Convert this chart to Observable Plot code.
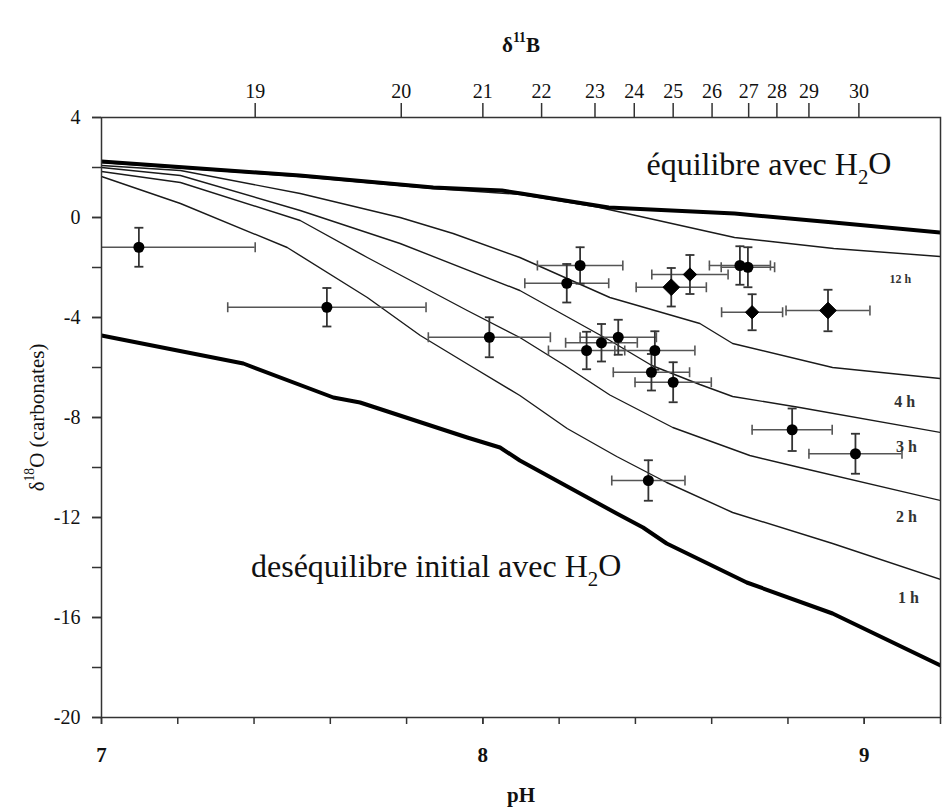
<!DOCTYPE html>
<html><head><meta charset="utf-8">
<script src="https://cdn.jsdelivr.net/npm/d3@7"></script>
<script src="https://cdn.jsdelivr.net/npm/@observablehq/plot@0.6"></script>
<style>
html,body{margin:0;padding:0;background:#fff;}
#chart{width:944px;height:810px;}
#chart svg, #chart svg text, #chart svg tspan{font-family:'Liberation Serif','Times New Roman',serif;}
</style></head><body><div id="chart"></div>
<script>
// ---------- model curves (pH, δ18O) ----------
const eqPH = [7.0, 7.52, 7.87, 8.05, 8.10, 8.33, 8.66, 8.92, 9.2];
const eqO  = [2.24, 1.68, 1.20, 1.08, 0.96, 0.40, 0.16, -0.20, -0.60];

const h12PH = [7.0, 7.52, 7.87, 8.10, 8.30, 8.41, 8.66, 8.92, 9.2];
const h12O  = [2.20, 1.64, 1.16, 0.92, 0.42, 0.05, -0.80, -1.24, -1.56];

const h4PH = [7.0, 7.207, 7.521, 7.783, 7.922, 8.097, 8.333, 8.569, 8.655, 8.917, 9.2];
const h4O  = [2.08, 1.88, 0.96, 0.0, -0.64, -1.60, -3.20, -4.24, -5.04, -6.00, -6.44];

const h3PH = [7.0, 7.207, 7.521, 7.783, 8.097, 8.333, 8.443, 8.569, 8.655, 8.831, 9.2];
const h3O  = [2.0, 1.68, 0.28, -1.04, -2.92, -4.92, -5.92, -6.68, -7.16, -7.60, -8.60];

const h2PH = [7.0, 7.207, 7.521, 7.697, 7.959, 8.097, 8.215, 8.333, 8.498, 8.700, 8.831, 9.2];
const h2O  = [1.84, 1.40, -0.12, -1.60, -3.72, -4.80, -5.92, -7.10, -8.40, -9.52, -10.00, -11.32];

const h1PH = [7.0, 7.207, 7.487, 7.697, 7.836, 7.966, 8.097, 8.221, 8.351, 8.482, 8.655, 8.917, 9.2];
const h1O  = [1.64, 0.56, -1.20, -3.20, -4.72, -5.92, -7.12, -8.44, -9.56, -10.60, -11.80, -13.04, -14.48];

const initPH = [7.0, 7.372, 7.608, 7.678, 7.959, 8.045, 8.097, 8.351, 8.420, 8.482, 8.692, 8.917, 9.2];
const initO  = [-4.72, -5.84, -7.20, -7.40, -8.80, -9.20, -9.72, -11.84, -12.40, -13.04, -14.60, -15.84, -17.92];

// ---------- samples ----------
const samplePH    = [7.098, 7.591, 8.017, 8.255, 8.220, 8.494, 8.543, 8.674, 8.695, 8.706, 8.905, 8.272, 8.311, 8.355, 8.451, 8.442, 8.499, 8.811, 8.977, 8.434];
const sampleO     = [-1.19, -3.59, -4.79, -1.92, -2.63, -2.79, -2.28, -1.92, -1.99, -3.79, -3.72, -5.32, -5.01, -4.79, -5.32, -6.19, -6.59, -8.49, -9.45, -10.52];
const samplePHErr = [0.305, 0.26, 0.16, 0.112, 0.11, 0.092, 0.10, 0.08, 0.07, 0.08, 0.11, 0.10, 0.094, 0.10, 0.105, 0.10, 0.10, 0.105, 0.122, 0.096];
const sampleOErr  = [0.78, 0.77, 0.80, 0.73, 0.77, 0.77, 0.78, 0.77, 0.80, 0.72, 0.83, 0.75, 0.75, 0.70, 0.77, 0.73, 0.80, 0.85, 0.80, 0.81];
const sampleType  = ["circle","circle","circle","circle","circle","bigDiamond","diamond","circle","circle","diamond","bigDiamond","circle","circle","circle","circle","circle","circle","circle","circle","circle"];

// ---------- axes ----------
const pHMinorTicks = [7, 7.2, 7.4, 7.6, 7.8, 8, 8.2, 8.4, 8.6, 8.8, 9, 9.2];
const pHMajorTicks = [7, 8, 9];
const yMinorTicks = [4, 2, 0, -2, -4, -6, -8, -10, -12, -14, -16, -18, -20];
const yMajorTicks = [4, 0, -4, -8, -12, -16, -20];
const b11Labels = ["19","20","21","22","23","24","25","26","27","28","29","30"];
const b11PH     = [7.403, 7.786, 8.000, 8.154, 8.294, 8.397, 8.499, 8.601, 8.697, 8.771, 8.855, 8.986];

// ---------- texts ----------
const topTitle = "δ^{11}B";
const xTitle = "pH";
const yTitle = "δ^{18}O (carbonates)";
const eqText = "équilibre avec H_{2}O";
const eqTextPH = 8.429, eqTextO = 1.72;
const initText = "deséquilibre initial avec H_{2}O";
const initTextPH = 7.392, initTextO = -14.36;
const curveLabels   = ["12 h", "4 h", "3 h", "2 h", "1 h"];
const curveLabelPH  = [9.095, 9.106, 9.111, 9.111, 9.116];
const curveLabelO   = [-2.48, -7.36, -9.16, -11.96, -15.2];

// ---------- build tables ----------
const mk = (name, ph, o) => ph.map((p, i) => ({curve: name, pH: p, d18O: o[i]}));
const thickRows = [...mk("eq", eqPH, eqO), ...mk("init", initPH, initO)];
const thinRows = [...mk("12h", h12PH, h12O), ...mk("4h", h4PH, h4O), ...mk("3h", h3PH, h3O), ...mk("2h", h2PH, h2O), ...mk("1h", h1PH, h1O)];
const samples = samplePH.map((p, i) => ({ph: p, o: sampleO[i], phErr: samplePHErr[i], oErr: sampleOErr[i], sym: sampleType[i]}));
const hCaps = samples.flatMap(d => [{x: d.ph - d.phErr, y: d.o}, {x: d.ph + d.phErr, y: d.o}]);
const vCaps = samples.flatMap(d => [{x: d.ph, y: d.o - d.oErr}, {x: d.ph, y: d.o + d.oErr}]);
const labelRows = curveLabels.map((t, i) => ({t, ph: curveLabelPH[i], o: curveLabelO[i]}));
const b11Map = new Map(b11PH.map((p, i) => [p, b11Labels[i]]));

const capVert = {draw(ctx, size) { const h = Math.sqrt(size / Math.PI); ctx.moveTo(0, -h); ctx.lineTo(0, h); }};
const capHorz = {draw(ctx, size) { const h = Math.sqrt(size / Math.PI); ctx.moveTo(-h, 0); ctx.lineTo(h, 0); }};

const FONT = "'Liberation Serif', 'Times New Roman', serif";

const plot = Plot.plot({
  width: 944, height: 810,
  marginLeft: 101, marginRight: 4, marginTop: 117, marginBottom: 93,
  x: {domain: [7, 9.2]},
  y: {domain: [-20, 4]},
  style: {fontFamily: FONT, fontSize: "20px", color: "#111", background: "#fff"},
  marks: [
    Plot.line(thinRows, {x: "pH", y: "d18O", z: "curve", stroke: "#1a1a1a", strokeWidth: 1.4, clip: true}),
    Plot.line(thickRows, {x: "pH", y: "d18O", z: "curve", stroke: "#000", strokeWidth: 4, clip: true}),
    Plot.ruleY(samples, {y: "o", x1: d => d.ph - d.phErr, x2: d => d.ph + d.phErr, stroke: "#555", strokeWidth: 1.6, clip: true}),
    Plot.ruleX(samples, {x: "ph", y1: d => d.o - d.oErr, y2: d => d.o + d.oErr, stroke: "#333", strokeWidth: 1.8, clip: true}),
    Plot.dot(hCaps, {x: "x", y: "y", symbol: capVert, r: 5, stroke: "#555", strokeWidth: 1.6, fill: "none", clip: true}),
    Plot.dot(vCaps, {x: "x", y: "y", symbol: capHorz, r: 4.5, stroke: "#333", strokeWidth: 1.8, fill: "none", clip: true}),
    Plot.dot(samples.filter(d => d.sym === "circle"), {x: "ph", y: "o", r: 5.5, fill: "#000", stroke: "none"}),
    Plot.dot(samples.filter(d => d.sym === "diamond"), {x: "ph", y: "o", r: 6, symbol: "diamond2", fill: "#000", stroke: "#000", strokeWidth: 1}),
    Plot.dot(samples.filter(d => d.sym === "bigDiamond"), {x: "ph", y: "o", r: 7.5, symbol: "diamond2", fill: "#000", stroke: "#000", strokeWidth: 1}),
    Plot.frame({stroke: "#333", strokeWidth: 1.5}),
    // bottom axis
    Plot.axisX(pHMinorTicks, {anchor: "bottom", tickSize: 7, tickFormat: () => "", label: null, stroke: "#333", strokeWidth: 1.5}),
    Plot.axisX(pHMajorTicks, {anchor: "bottom", tickSize: 7, tickPadding: 23, tickFormat: d => String(d), label: null, fontSize: 21, fontWeight: "bold", fontFamily: FONT, stroke: "#333", strokeWidth: 1.5}),
    // top axis (δ11B)
    Plot.axisX(b11PH, {anchor: "top", tickSize: 15, tickPadding: 5, tickFormat: d => b11Map.get(d), label: null, fontSize: 20, fontFamily: FONT, stroke: "#333", strokeWidth: 1.5}),
    // left axis
    Plot.axisY(yMinorTicks, {anchor: "left", tickSize: 9, tickFormat: () => "", label: null, stroke: "#333", strokeWidth: 1.5}),
    Plot.axisY(yMajorTicks, {anchor: "left", tickSize: 9, tickPadding: 12, tickFormat: d => String(d), label: null, fontSize: 20, fontFamily: FONT, stroke: "#333", strokeWidth: 1.5}),
    // titles
    Plot.text([topTitle], {frameAnchor: "top", dy: -80, fontSize: 21, fontWeight: "bold", fontFamily: FONT}),
    Plot.text([xTitle], {frameAnchor: "bottom", dy: 84, fontSize: 21, fontWeight: "bold", fontFamily: FONT}),
    Plot.text([yTitle], {frameAnchor: "left", dx: -64, rotate: -90, textAnchor: "middle", fontSize: 21, fontFamily: FONT}),
    // annotations
    Plot.text([eqText], {x: eqTextPH, y: eqTextO, textAnchor: "start", lineAnchor: "bottom", fontSize: 32, fontFamily: FONT}),
    Plot.text([initText], {x: initTextPH, y: initTextO, textAnchor: "start", lineAnchor: "bottom", fontSize: 32, fontFamily: FONT}),
    Plot.text(labelRows.slice(0, 1), {x: "ph", y: "o", text: "t", fontSize: 12, fontWeight: "bold", fill: "#333", fontFamily: FONT}),
    Plot.text(labelRows.slice(1), {x: "ph", y: "o", text: "t", fontSize: 16, fontWeight: "bold", fill: "#333", fontFamily: FONT})
  ]
});

// rich text: _{sub} and ^{sup}
d3.select(plot).selectAll("text").each(function() {
  const s = this.textContent;
  if (!/[_^]\{/.test(s)) return;
  const parts = s.split(/([_^]\{[^}]*\})/).filter(p => p !== "");
  while (this.firstChild) this.removeChild(this.firstChild);
  let pending = null;
  for (const p of parts) {
    const t = document.createElementNS("http://www.w3.org/2000/svg", "tspan");
    if (p[0] === "_" || p[0] === "^") {
      const sub = p[0] === "_";
      t.textContent = p.slice(2, -1);
      t.setAttribute("font-size", "65%");
      t.setAttribute("dy", sub ? "0.46em" : "-0.77em");
      pending = sub ? "-0.3em" : "0.5em";
    } else {
      t.textContent = p;
      if (pending) { t.setAttribute("dy", pending); pending = null; }
    }
    this.appendChild(t);
  }
});

document.getElementById("chart").append(plot);
</script>
</body></html>
